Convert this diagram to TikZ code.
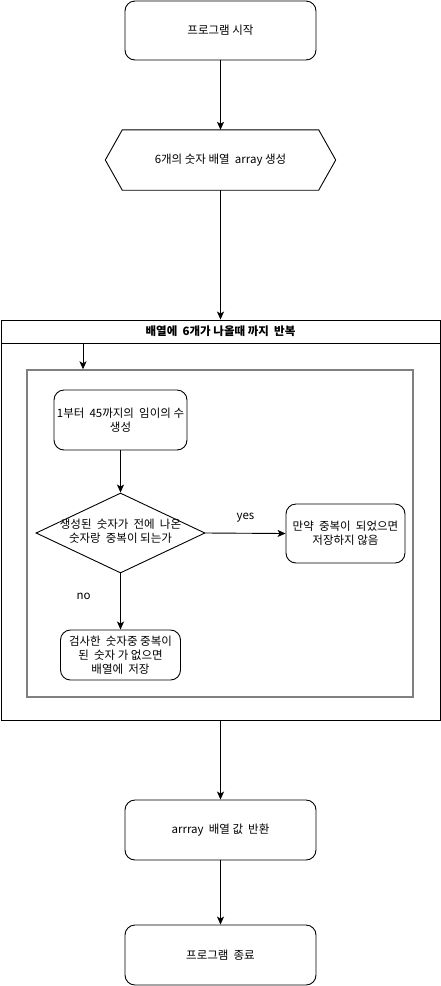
\documentclass[tikz,border=0pt]{standalone}
\usepackage{fontspec}
\setmainfont{Noto Sans CJK KR}
\usetikzlibrary{shapes.geometric}
\usetikzlibrary{arrows.meta}

\begin{document}
\begin{tikzpicture}[x=1pt,y=-1pt,
    font=\fontsize{11.5}{14}\selectfont,
    stepbox/.style={draw,line width=0.9pt,rounded corners=10pt,align=center,inner sep=0pt},
    link/.style={line width=0.9pt,-{Stealth[length=8pt,width=7pt,inset=2pt]}}]
    \useasboundingbox (0,0) rectangle (441,986);
    % Start and array
    \node[stepbox,minimum width=191pt,minimum height=59pt] (start) at (220.5,30.5) {프로그램 시작};
    \node[minimum width=196pt,minimum height=60pt,inner sep=0pt] (gen) at (220.5,160) {6개의 숫자 배열\ \ array 생성};
    \draw[line width=0.9pt] (gen.north west) -- (gen.north east) -- ([xshift=17pt]gen.east)
        -- (gen.south east) -- (gen.south west) -- ([xshift=-17pt]gen.west) -- cycle;
    % Loop container
    \node[draw,line width=0.9pt,minimum width=439pt,minimum height=400pt,inner sep=0pt] (loop) at (220.5,520) {};
    \node[draw,line width=0.9pt,minimum width=439pt,minimum height=23pt,inner sep=0pt,font=\fontsize{11.5}{14}\selectfont\bfseries] (title) at (220.5,331.5) {배열에\ \ 6개가 나올때 까지\ \ 반복};
    \node[draw=black!50,line width=1.4pt,minimum width=386pt,minimum height=327pt,inner sep=0pt] (inner) at (220,533.5) {};
    \coordinate (in) at (83,343);
    % Inside the loop
    \node[stepbox,minimum width=133pt,minimum height=60pt] (rnd) at (120.5,420) {1부터\ \ 45까지의\ \ 임이의 수\\생성};
    \node[diamond,draw,line width=0.9pt,aspect=2.11,minimum width=169pt,minimum height=80pt,inner sep=0pt,
        label=center:{\begin{tabular}{@{}c@{}}생성된\ \ 숫자가\ \ 전에\ \ 나온\\숫자랑\ \ 중복이 되는가\end{tabular}}] (dup) at (120.5,533) {};
    \node[stepbox,minimum width=119pt,minimum height=59pt] (skip) at (345.5,533.5) {만약\ \ 중복이\ \ 되었으면\\저장하지 않음};
    \node[stepbox,minimum width=120pt,minimum height=50pt] (save) at (120.5,655) {검사한\ \ 숫자중 중복이\\된\ \ 숫자 가 없으면\\배열에\ \ 저장};
    % End
    \node[stepbox,minimum width=191pt,minimum height=60pt] (ret) at (220.5,830) {arrray\ \ 배열 값\ \ 반환};
    \node[stepbox,minimum width=191pt,minimum height=60pt] (stop) at (220.5,955) {프로그램\ \ 종료};
    % Arrows
    \draw[link] (start) -- (gen);
    \draw[link] (gen.south) -- (loop.north);
    \draw[link] (in) -- (in |- inner.north);
    \draw[link] (rnd) -- (dup);
    \draw[link] (dup.east) -- node[above=7pt] {yes} (skip.west);
    \draw[link] (dup.south) -- node[pos=0.4,left=26pt] {no} (save.north);
    \draw[link] (loop.south) -- (ret);
    \draw[link] (ret) -- (stop);
\end{tikzpicture}
\end{document}
